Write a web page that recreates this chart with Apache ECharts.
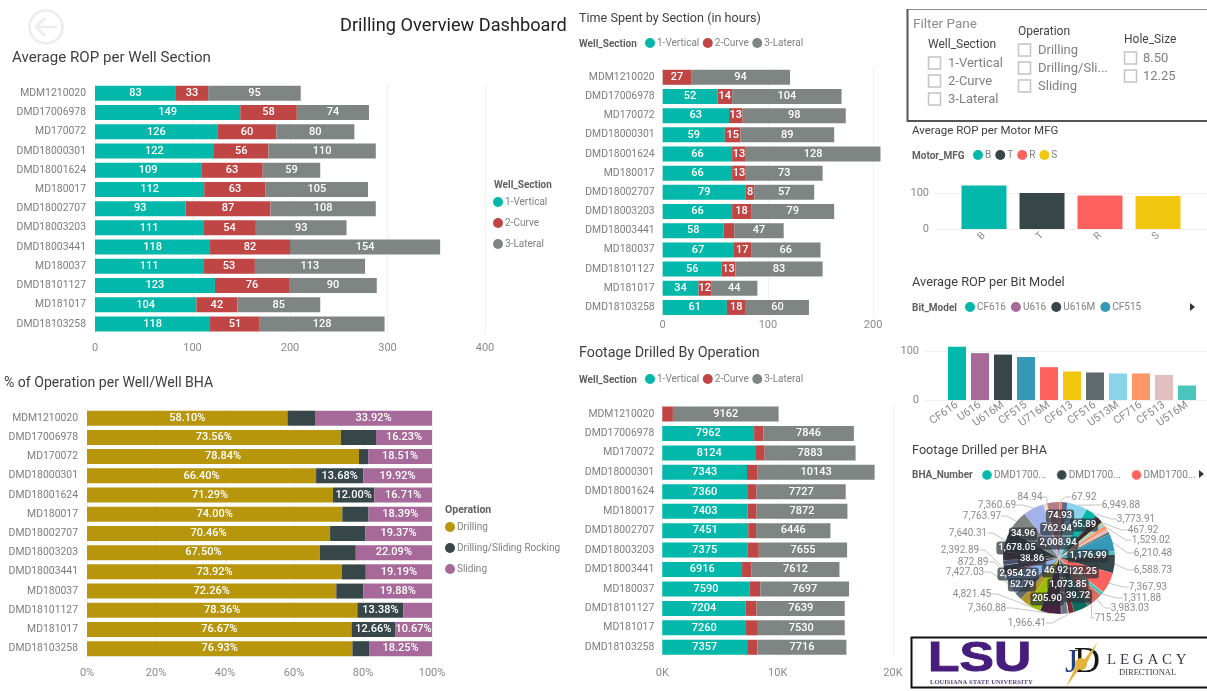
<!DOCTYPE html>
<html><head><meta charset="utf-8">
<style>html,body{margin:0;padding:0;background:#fff}#c{width:1207px;height:691px}</style>
<script src="https://cdn.jsdelivr.net/npm/echarts@6/dist/echarts.min.js"></script>
</head><body><div id="c"></div>
<script>
const wells=['MDM1210020','DMD17006978','MD170072','DMD18000301','DMD18001624','MD180017','DMD18002707','DMD18003203','DMD18003441','MD180037','DMD18101127','MD181017','DMD18103258'];
const sectionNames=['1-Vertical','2-Curve','3-Lateral'];
const opNames=['Drilling','Drilling/Sliding Rocking','Sliding'];

const ropVertical=[83,149,126,122,109,112,93,111,118,111,123,104,118];
const ropCurve=[33,58,60,56,63,63,87,54,82,53,76,42,51];
const ropLateral=[95,74,80,110,59,105,108,93,154,113,90,85,128];

const opDrilling=[58.10,73.56,78.84,66.40,71.29,74.00,70.46,67.50,73.92,72.26,78.36,76.67,76.93];
const opRocking=[7.98,10.21,2.65,13.68,12.00,7.61,10.17,10.41,6.89,7.86,13.38,12.66,4.82];
const opSliding=[33.92,16.23,18.51,19.92,16.71,18.39,19.37,22.09,19.19,19.88,8.26,10.67,18.25];

const timeVertical=[0,52,63,59,66,66,79,66,58,67,56,34,61];
const timeCurve=[27,14,13,15,13,13,8,18,10,17,13,12,18];
const timeLateral=[94,104,98,89,128,73,57,79,47,66,83,44,60];

const footVertical=[0,7962,8124,7343,7360,7403,7451,7375,6916,7590,7204,7260,7357];
const footCurve=[920,800,750,920,813,775,678,990,830,903,972,1025,887];
const footLateral=[9162,7846,7883,10143,7727,7872,6446,7655,7612,7697,7639,7530,7716];

const motorNames=['B','T','R','S'];
const motorValues=[121,100,93,92];
const bitNames=['CF616','U616','U616M','CF515','U716M','CF613','CF516','U513M','CF716','CF513','U516M'];
const bitValues=[110,97,94,89,68,59,57,55,55,52,30];

// Pie slices clockwise from 12 o'clock; round values carry no printed label in the reference.
const bhaValues=[74.93,67.92,900,2008.94,6949.88,65.89,3773.91,762.94,2400,467.92,1000,1529.02,1100,800,6210.48,1176.99,6588.73,7367.93,122.25,1311.88,3983.03,715.25,39.72,1073.85,5200,1966.41,205.90,2400,46.92,7360.88,52.79,4821.45,2954.26,2800,7427.03,872.89,2392.89,38.86,1678.05,3000,7640.31,34.96,7763.97,7360.69,1200,84.94,4200];
const bhaKinds=['i','o','n','i','o','i','o','i','n','o','n','o','n','n','o','i','o','o','i','o','o','o','i','i','n','o','i','n','i','o','i','o','i','n','o','o','o','i','i','n','o','i','o','o','n','o','n'];
const bhaColors=['#C0433F','#F2762E','#FE7A3E','#5A6B94','#8AD4EB','#01B8AA','#01B8AA','#374649','#3A2B3A','#F2C80F','#8AD4EB','#FE9666','#DFBFBF','#5F6B6D','#3599B8','#4AC5BB','#374649','#FD625E','#F2C80F','#4AC5BB','#D9705F','#3A2B3A','#A66999','#5F6B6D','#0B6B5E','#7A2A30','#fff','#6A7A8A','#8AD4EB','#46243F','#374649','#9BBF00','#B59525','#5F6B6D','#8AB4F0','#7A3040','#30384A','#A66999','#46506A','#34303A','#2F3B3E','#01B8AA','#7F8583','#A3B2EA','#F3D9C8','#FE9666','#B07F88'];
const bhaLegendNames={6:'DMD17006978 BHA1',16:'DMD17006978 BHA2',17:'DMD17006978 BHA3'};

const cTeal='#01B8AA',cRed='#BF4644',cGray='#7F8583',cGold='#B8960C',cDark='#374649',cPurple='#A66999';
const fontUI='Roboto, "Open Sans", sans-serif';
const fontNum='Roboto, sans-serif';
const axisGrey='#8a8a8a';
const gridLine='#f1f1f1';

function stack(names,arrays,colors,idx,opts){
  opts=opts||{};
  return names.map((n,i)=>({
    type:'bar',name:n,stack:'s'+idx,xAxisIndex:idx,yAxisIndex:idx,barWidth:15,
    itemStyle:{color:colors[i]},
    label:{show:opts.noLabel?opts.noLabel[i]!==true:true,position:'inside',color:'#fff',fontFamily:fontNum,fontWeight:500,fontSize:11,
      formatter:p=>opts.fmt?opts.fmt(p,i):String(p.value)},
    data:arrays[i]
  }));
}
function grid(l,r,t,b){return {left:l,width:r-l,top:t,height:b-t,containLabel:false};}
function valAxis(gi,max,interval,fmt,margin,hideMax){
  return {type:'value',gridIndex:gi,min:0,max:max,interval:interval,
    axisLine:{show:false},axisTick:{show:false},
    axisLabel:{color:axisGrey,fontFamily:fontUI,fontSize:11,margin:margin,formatter:fmt,showMaxLabel:hideMax?false:true},
    splitLine:{show:true,showMaxLine:hideMax?false:true,lineStyle:{color:gridLine}}};
}
function catAxis(gi,margin){
  return {type:'category',gridIndex:gi,data:wells,inverse:true,
    axisLine:{show:false},axisTick:{show:false},splitLine:{show:false},
    axisLabel:{color:'#7d7d7d',fontFamily:fontUI,fontSize:10.4,margin:margin,interval:0}};
}
function T(text,left,top,size,weight,color){
  return {text:text,left:left,top:top,padding:0,textStyle:{fontFamily:fontUI,fontSize:size,fontWeight:weight||'normal',color:color||'#3f3f3f'}};
}
function Lg(data,left,top,orient,gap,extra){
  return Object.assign({data:data,left:left,top:top,orient:orient||'horizontal',icon:'circle',itemWidth:10,itemHeight:10,itemGap:gap,padding:0,
    selectedMode:false,textStyle:{color:'#808080',fontFamily:fontUI,fontSize:10,padding:[0,0,0,-3]}},extra||{});
}

const grids=[
  grid(95,485,83.7,333.6),
  grid(87,432,408.6,658.3),
  grid(662.7,888.9,67.7,317),
  grid(662.3,893,404.3,657),
  grid(935,1207,157,229),
  grid(955,1187,157,229),
  grid(925,1207,303.4,400),
  grid(945.5,1198.5,303.4,400)
];
const xAxes=[
  valAxis(0,400,100,null,9),
  valAxis(1,100,20,v=>v+'%',9),
  valAxis(2,215,100,null,3,true),
  valAxis(3,20000,10000,v=>(v/1000)+'K',11),
  {type:'category',gridIndex:4,show:false,data:motorNames},
  {type:'category',gridIndex:5,data:motorNames,axisLine:{show:false},axisTick:{show:false},
    axisLabel:{color:axisGrey,fontFamily:fontUI,fontSize:10,rotate:45,margin:5,interval:0}},
  {type:'category',gridIndex:6,show:false,data:bitNames},
  {type:'category',gridIndex:7,data:bitNames,axisLine:{show:false},axisTick:{show:false},
    axisLabel:{color:axisGrey,fontFamily:fontUI,fontSize:11,rotate:35,margin:4,interval:0}}
];
const yAxes=[catAxis(0,9),catAxis(1,9),catAxis(2,8),catAxis(3,8),
  valAxis(4,200,100,null,6,true),
  {type:'value',gridIndex:5,min:0,max:200,show:false},
  valAxis(6,200,100,null,6,true),
  {type:'value',gridIndex:7,min:0,max:200,show:false}
];

const series=[]
 .concat(stack(sectionNames,[ropVertical,ropCurve,ropLateral],[cTeal,cRed,cGray],0))
 .concat(stack(opNames,[opDrilling,opRocking,opSliding],[cGold,cDark,cPurple],1,{
   fmt:p=>p.value>=10.5?p.value.toFixed(2)+'%':''}))
 .concat(stack(sectionNames,[timeVertical,timeCurve,timeLateral],[cTeal,cRed,cGray],2,{
   fmt:(p,i)=>(p.value===0||(i===1&&p.value===10))?'':String(p.value)}))
 .concat(stack(sectionNames,[footVertical,footCurve,footLateral],[cTeal,cRed,cGray],3,{
   noLabel:[false,true,false],fmt:p=>p.value===0?'':String(p.value)}));

series.push({type:'bar',xAxisIndex:4,yAxisIndex:4,data:[],silent:true});
series.push({type:'bar',xAxisIndex:6,yAxisIndex:6,data:[],silent:true});

const motorColors=[cTeal,'#374649','#FD625E','#F2C80F'];
motorNames.forEach((n,i)=>series.push({type:'bar',name:n,stack:'m',xAxisIndex:5,yAxisIndex:5,barWidth:45,
  itemStyle:{color:motorColors[i]},data:motorValues.map((v,j)=>j===i?v:null)}));
const bitColors=['#01B8AA','#A66999','#374649','#3599B8','#FD625E','#F2C80F','#5F6B6D','#8AD4EB','#FE9666','#DFBFBF','#4AC5BB'];
bitNames.forEach((n,i)=>series.push({type:'bar',name:n,stack:'b',xAxisIndex:7,yAxisIndex:7,barWidth:18,
  itemStyle:{color:bitColors[i]},data:bitValues.map((v,j)=>j===i?v:null)}));

const labelSpots={74.93:[1060,516],67.92:[1084,497],2008.94:[1058,543],6949.88:[1121,505],65.89:[1084,525],3773.91:[1136,519],762.94:[1057,529],467.92:[1143,530],1529.02:[1151,540],6210.48:[1153,553],1176.99:[1088,556],6588.73:[1153,570],7367.93:[1148,587],122.25:[1082,572],1311.88:[1142,598],3983.03:[1130,608],715.25:[1110,618],39.72:[1078,596],1073.85:[1068,585],1966.41:[1027,623],205.90:[1047,599],46.92:[1056,571],7360.88:[987,608],52.79:[1022,585],4821.45:[972,594],2954.26:[1018,574],7427.03:[965,572],872.89:[973,562],2392.89:[960,550],38.86:[1032,559],1678.05:[1017,548],7640.31:[968,533],34.96:[1023,534],7763.97:[982,516],7360.69:[997,505],84.94:[1030,497]};

const money=v=>v.toLocaleString('en-US',{minimumFractionDigits:2,maximumFractionDigits:2});
series.push({type:'pie',center:[1059,558],radius:[0,56],startAngle:90,clockwise:true,avoidLabelOverlap:false,
  itemStyle:{borderColor:'rgba(255,255,255,0.25)',borderWidth:0.3},
  emphasis:{disabled:true},
  labelLine:{show:true,length:6,length2:6,lineStyle:{color:'#c4c4c4',width:1}},
  labelLayout:p=>{const s=labelSpots[bhaValues[p.dataIndex]];return s?{x:s[0],y:s[1],align:'center',verticalAlign:'middle'}:{};},
  data:bhaValues.map((v,i)=>{
    const k=bhaKinds[i];
    const d={name:bhaLegendNames[i]||('BHA '+(i+1)),value:v,itemStyle:{color:bhaColors[i]}};
    if(k==='n'){d.label={show:false};d.labelLine={show:false};}
    else if(k==='i'){d.label={show:true,position:'inside',formatter:()=>money(v),color:'#fff',fontFamily:fontNum,fontWeight:500,fontSize:9.5,backgroundColor:'rgba(45,48,56,0.72)',borderRadius:3,padding:[2,2,1,2]};d.labelLine={show:false};}
    else{d.label={show:true,position:'outside',formatter:()=>money(v),color:'#8c8c8c',fontFamily:fontNum,fontSize:10};}
    return d;
  })
});

const titles=[
  T('Drilling Overview Dashboard',340,17,18.2,'normal','#222'),
  T('Average ROP per Well Section',12,51,15.1),
  T('% of Operation per Well/Well BHA',4,376,14.1),
  T('Time Spent by Section (in hours)',579,12,12.6),
  T('Footage Drilled By Operation',579,346,14.3),
  T('Well_Section',494,180,10,'bold','#606060'),
  T('Operation',445,505,10.5,'bold','#606060'),
  T('Well_Section',579,39,10,'bold','#606060'),
  T('Well_Section',579,375,10,'bold','#606060'),
  T('Average ROP per Motor MFG',912,125,11.5),
  T('Motor_MFG',912,151,10,'bold','#606060'),
  T('Average ROP per Bit Model',912,276,12.8),
  T('Bit_Model',912,303,10,'bold','#606060'),
  T('Footage Drilled per BHA',912,444,12.7),
  T('BHA_Number',912,470,10,'bold','#606060')
];
const legends=[
  Lg(sectionNames,493,197,'vertical',11),
  Lg(opNames,445,522,'vertical',11),
  Lg(sectionNames,645,38,'horizontal',3.5),
  Lg(sectionNames,645,374,'horizontal',3.5),
  Lg(motorNames,973,150,'horizontal',4),
  Lg(bitNames.slice(0,4),965,302,'horizontal',5),
  Lg([bhaLegendNames[6],bhaLegendNames[16],bhaLegendNames[17]],981,469,'horizontal',9.5,{width:226,formatter:n=>n.slice(0,7)+'...'})
];

function gt(text,x,y,size,color,extra){
  return {type:'text',z:10,style:Object.assign({text:text,x:x,y:y,fill:color||'#666',fontFamily:fontUI,fontSize:size,textVerticalAlign:'middle'},extra||{})};
}
function box(x,y){return {type:'rect',z:10,shape:{x:x,y:y-6,width:12,height:12},style:{fill:'#fff',stroke:'#c4c4c4',lineWidth:1.5}};}
const graphics=[
  {type:'circle',shape:{cx:46,cy:27,r:16.5},style:{fill:'none',stroke:'#ececec',lineWidth:2.5}},
  {type:'polyline',shape:{points:[[36,27],[57,27]]},style:{stroke:'#ececec',lineWidth:2.5,fill:'none'}},
  {type:'polyline',shape:{points:[[45,18],[36,27],[45,36]]},style:{stroke:'#ececec',lineWidth:2.5,fill:'none'}},
  {type:'rect',shape:{x:907.5,y:9.5,width:302,height:111},style:{fill:'none',stroke:'#8f8f8f',lineWidth:1}},
  {type:'polyline',shape:{points:[[907.5,9],[907.5,121],[1207,121]]},style:{fill:'none',stroke:'#555',lineWidth:2}},
  gt('Filter Pane',913,25,13.5,'#8c8c8c'),
  gt('Well_Section',928,45,12,'#444'),
  gt('Operation',1018,32,12,'#444'),
  gt('Hole_Size',1124,40,12,'#444'),
  box(928.5,63),box(928.5,81),box(928.5,99),
  box(1018.5,50),box(1018.5,68),box(1018.5,86),
  box(1124.5,58),box(1124.5,76),
  gt('1-Vertical',948,64,13,'#808080'),gt('2-Curve',948,82,13,'#808080'),gt('3-Lateral',948,100,13,'#808080'),
  gt('Drilling',1038,51,13,'#808080'),gt('Drilling/Sli...',1038,68.5,13,'#808080'),gt('Sliding',1038,86.5,13,'#808080'),
  gt('8.50',1143,58.5,13,'#808080'),gt('12.25',1143,76.5,13,'#808080'),
  {type:'polygon',shape:{points:[[1190,303],[1190,311],[1195,307]]},style:{fill:'#333'}},
  {type:'polygon',shape:{points:[[1199,470],[1199,478],[1204,474]]},style:{fill:'#333'}},
  {type:'rect',shape:{x:911.5,y:637.5,width:297,height:50},style:{fill:'#fff',stroke:'#111',lineWidth:2}},
  {type:'text',z:10,x:928,y:659,scaleX:1.2,style:{text:'LSU',x:0,y:0,fill:'#461D7C',stroke:'#461D7C',lineWidth:1,fontFamily:'"Liberation Sans",sans-serif',fontWeight:'bold',fontSize:43,textVerticalAlign:'middle'}},
  gt('LOUISIANA STATE UNIVERSITY',930,682,6.6,'#5a4a78',{fontFamily:'"Liberation Serif",serif',fontWeight:'bold'}),
  gt('L E G A C Y',1107,660,15,'#3a3a44',{fontFamily:'"Liberation Serif",serif'}),
  gt('DIRECTIONAL',1119,673,8.5,'#3a3a44',{fontFamily:'"Liberation Serif",serif'}),
  gt('J',1065,663,34,'#24407c',{fontFamily:'"Liberation Serif",serif'}),
  gt('D',1074,663,36,'#151515',{fontFamily:'"Liberation Serif",serif'}),
  {type:'circle',z:11,shape:{cx:1081,cy:664,r:6},style:{fill:'#E3B23C'}},
  {type:'polygon',z:11,shape:{points:[[1098,642],[1083,661],[1087,663]]},style:{fill:'#E3B23C'}},
  {type:'polygon',z:11,shape:{points:[[1066,687],[1080,668],[1076,666]]},style:{fill:'#E3B23C'}}
];

const chart=echarts.init(document.getElementById('c'),null,{renderer:'canvas'});
chart.setOption({animation:false,backgroundColor:'#fff',tooltip:{show:false},
  title:titles,legend:legends,grid:grids,xAxis:xAxes,yAxis:yAxes,series:series,graphic:graphics});
</script></body></html>
